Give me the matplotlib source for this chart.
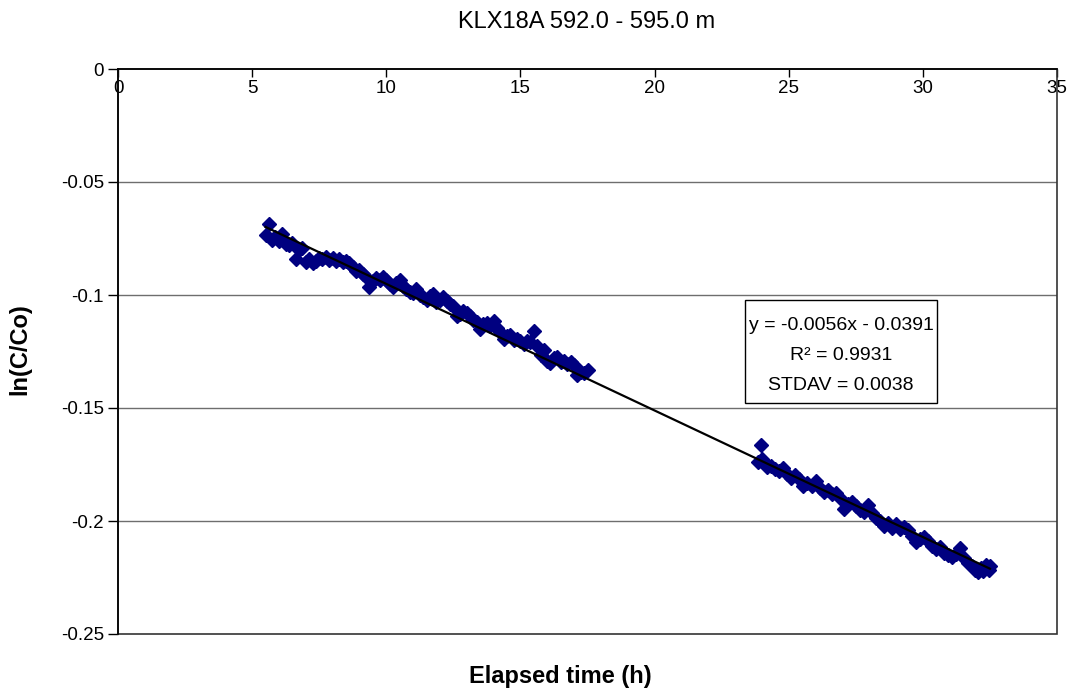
import matplotlib
matplotlib.use('Agg')
import matplotlib.pyplot as plt
from matplotlib.patches import Rectangle
import numpy as np

plt.rcParams['font.family'] = ['Liberation Sans', 'DejaVu Sans']

TITLE = 'KLX18A 592.0 - 595.0 m'
X_LABEL = 'Elapsed time (h)'
Y_LABEL = 'ln(C/Co)'

# first measurement period
time_1 = [5.50, 5.62, 5.75, 5.87, 6.00, 6.12, 6.25, 6.37, 6.50, 6.62,
          6.75, 6.87, 7.00, 7.12, 7.25, 7.37, 7.50, 7.62, 7.75, 7.87,
          8.00, 8.12, 8.25, 8.37, 8.50, 8.62, 8.75, 8.87, 9.00, 9.12,
          9.25, 9.37, 9.50, 9.62, 9.75, 9.87, 10.00, 10.12, 10.25, 10.37,
          10.50, 10.62, 10.75, 10.87, 11.00, 11.12, 11.25, 11.37, 11.50, 11.62,
          11.75, 11.87, 12.00, 12.12, 12.25, 12.37, 12.50, 12.62, 12.75, 12.87,
          13.00, 13.12, 13.25, 13.37, 13.50, 13.62, 13.75, 13.87, 14.00, 14.12,
          14.25, 14.37, 14.50, 14.62, 14.75, 14.87, 15.00, 15.12, 15.25, 15.37,
          15.50, 15.62, 15.75, 15.87, 16.00, 16.12, 16.25, 16.37, 16.50, 16.62,
          16.75, 16.87, 17.00, 17.12, 17.25, 17.37, 17.50]
lnc_1 = [-0.0735, -0.0685, -0.0755, -0.0745, -0.0760, -0.0730, -0.0775, -0.0780, -0.0770, -0.0840,
         -0.0800, -0.0790, -0.0855, -0.0840, -0.0860, -0.0850, -0.0835, -0.0840, -0.0830, -0.0845,
         -0.0835, -0.0850, -0.0840, -0.0855, -0.0850, -0.0860, -0.0875, -0.0895, -0.0890, -0.0905,
         -0.0920, -0.0965, -0.0940, -0.0925, -0.0935, -0.0920, -0.0935, -0.0950, -0.0965, -0.0945,
         -0.0935, -0.0960, -0.0975, -0.0985, -0.0990, -0.0975, -0.1000, -0.1010, -0.1020, -0.1005,
         -0.0995, -0.1030, -0.1020, -0.1010, -0.1025, -0.1040, -0.1050, -0.1095, -0.1085, -0.1070,
         -0.1080, -0.1095, -0.1110, -0.1120, -0.1150, -0.1130, -0.1125, -0.1135, -0.1115, -0.1145,
         -0.1165, -0.1195, -0.1180, -0.1175, -0.1200, -0.1195, -0.1205, -0.1215, -0.1205, -0.1210,
         -0.1160, -0.1225, -0.1265, -0.1245, -0.1290, -0.1300, -0.1280, -0.1275, -0.1295, -0.1290,
         -0.1305, -0.1295, -0.1310, -0.1355, -0.1340, -0.1345, -0.1330]

# second measurement period
time_2 = [23.85, 23.95, 24.00, 24.10, 24.20, 24.35, 24.50, 24.65, 24.80, 24.95,
          25.10, 25.25, 25.40, 25.55, 25.70, 25.85, 26.00, 26.15, 26.30, 26.45,
          26.60, 26.75, 26.90, 27.05, 27.20, 27.35, 27.50, 27.65, 27.80, 27.95,
          28.10, 28.25, 28.40, 28.55, 28.70, 28.85, 29.00, 29.15, 29.30, 29.45,
          29.60, 29.75, 29.90, 30.05, 30.20, 30.35, 30.50, 30.65, 30.80, 30.95,
          31.10, 31.25, 31.40, 31.55, 31.70, 31.85, 31.95, 32.05, 32.15, 32.25,
          32.35, 32.45, 32.50]
lnc_2 = [-0.1740, -0.1665, -0.1725, -0.1745, -0.1760, -0.1755, -0.1770, -0.1780, -0.1765, -0.1790,
         -0.1810, -0.1795, -0.1815, -0.1845, -0.1830, -0.1845, -0.1825, -0.1855, -0.1870, -0.1865,
         -0.1880, -0.1875, -0.1900, -0.1945, -0.1925, -0.1915, -0.1935, -0.1950, -0.1960, -0.1930,
         -0.1965, -0.1985, -0.2000, -0.2020, -0.2010, -0.2030, -0.2015, -0.2035, -0.2025, -0.2040,
         -0.2065, -0.2095, -0.2080, -0.2070, -0.2090, -0.2110, -0.2125, -0.2115, -0.2140, -0.2150,
         -0.2160, -0.2145, -0.2120, -0.2165, -0.2185, -0.2200, -0.2215, -0.2225, -0.2210, -0.2220,
         -0.2195, -0.2215, -0.2200]

SLOPE = -0.0056
INTERCEPT = -0.0391
R2 = 0.9931
STDAV = 0.0038

X_TICKS = [0, 5, 10, 15, 20, 25, 30, 35]
Y_TICKS = [0, -0.05, -0.1, -0.15, -0.2, -0.25]
Y_TICK_LABELS = ['0', '-0.05', '-0.1', '-0.15', '-0.2', '-0.25']

W, H, DPI = 1068, 691, 100
fig = plt.figure(figsize=(W / DPI, H / DPI), dpi=DPI)
ax = fig.add_axes([118 / W, 1 - 634 / H, 939 / W, 565 / H])

ax.set_xlim(0, 35)
ax.set_ylim(-0.25, 0)

for y in Y_TICKS[1:-1]:
    ax.axhline(y, color='#6e6e6e', lw=1, zorder=1)

ax.plot(time_1 + time_2, lnc_1 + lnc_2, linestyle='none', marker='D',
        markersize=7.5, color='#000080', zorder=3)

xs = np.array([min(time_1), max(time_2)])
ax.plot(xs, SLOPE * xs + INTERCEPT, color='black', lw=1.6, zorder=4)

# x axis sits at y = 0 (top of the plot)
ax.spines['bottom'].set_position(('data', 0))
ax.spines['top'].set_visible(False)
ax.spines['right'].set_visible(False)
for s in ['bottom', 'left']:
    ax.spines[s].set_color('black')
    ax.spines[s].set_linewidth(1.2)
    ax.spines[s].set_zorder(5)
ax.add_patch(Rectangle((0, 0), 1, 1, transform=ax.transAxes, fill=False,
                       edgecolor='#333333', lw=1.2, zorder=2, clip_on=False))

ax.set_xticks(X_TICKS)
ax.set_xticklabels([str(t) for t in X_TICKS])
ax.set_yticks(Y_TICKS)
ax.set_yticklabels(Y_TICK_LABELS)
ax.tick_params(axis='x', direction='out', length=6, width=1, labelsize=13.5, pad=2)
ax.tick_params(axis='y', direction='out', length=7, width=1, labelsize=13.5, pad=3)

fig.text(587 / W, 1 - 22 / H, TITLE, ha='center', va='center', fontsize=17)
fig.text(560 / W, 1 - 676 / H, X_LABEL, ha='center', va='center',
         fontsize=17, fontweight='bold')
fig.text(20 / W, 1 - 349 / H, Y_LABEL, ha='center', va='center',
         fontsize=17, fontweight='bold', rotation=90)

# trendline label box (axes fractions)
box_x0, box_y0, box_w, box_h = 0.6677, 0.4088, 0.2045, 0.1823
ax.add_patch(Rectangle((box_x0, box_y0), box_w, box_h, transform=ax.transAxes,
                       facecolor='white', edgecolor='black', lw=1, zorder=6))
box_lines = ['y = %.4fx - %.4f' % (SLOPE, -INTERCEPT),
             'R² = %.4f' % R2,
             'STDAV = %.4f' % STDAV]
cx = box_x0 + box_w / 2
for i, line in enumerate(box_lines):
    ax.text(cx, box_y0 + box_h * (0.75 - 0.29 * i), line, transform=ax.transAxes,
            ha='center', va='center', fontsize=14, zorder=7)

fig.savefig('out.png', dpi=DPI)
